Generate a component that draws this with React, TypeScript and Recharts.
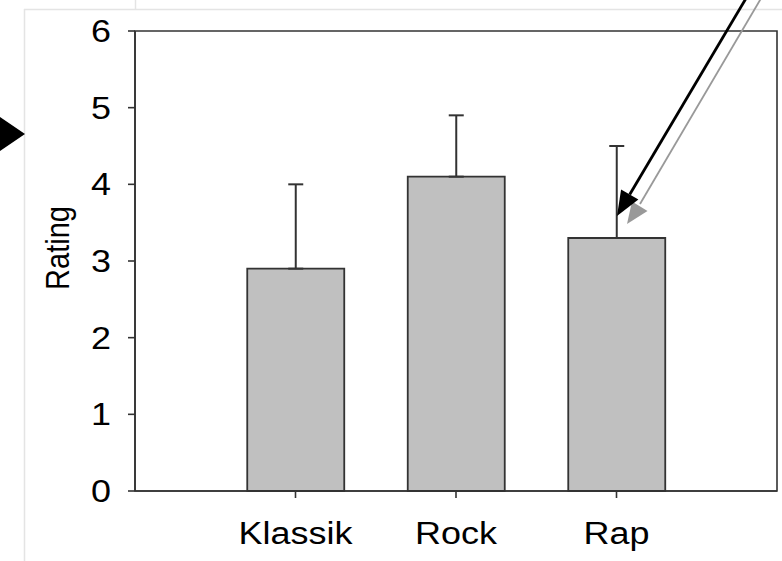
import React from 'react';
import { BarChart, Bar, XAxis, YAxis, ErrorBar, ReferenceArea } from 'recharts';

const categories = ['Klassik', 'Rock', 'Rap'];
const positions = [1, 2, 3];
const ratings = [2.9, 4.1, 3.3];
const errorsUp = [1.1, 0.8, 1.2];
const yTicks = [0, 1, 2, 3, 4, 5, 6];

const data = categories.map((name, i) => ({
  pos: positions[i],
  name,
  rating: ratings[i],
  err: [0, errorsUp[i]],
}));

const FONT = '"Liberation Sans", Arial, sans-serif';
const AXIS = '#333333';
const FS = 31;
const SX = 1.16;

const XTick = (props: any) => {
  const { x, y, payload } = props;
  return (
    <text
      x={0}
      y={0}
      dy="0.71em"
      transform={`translate(${x},${y}) scale(${SX},1)`}
      textAnchor="middle"
      fontFamily={FONT}
      fontSize={FS}
      fill="#000"
    >
      {categories[payload.value - 1]}
    </text>
  );
};

const YTick = (props: any) => {
  const { x, y, payload } = props;
  return (
    <text
      x={0}
      y={0}
      dy="0.355em"
      transform={`translate(${x + 1},${y}) scale(${SX},1)`}
      textAnchor="end"
      fontFamily={FONT}
      fontSize={FS}
      fill="#000"
    >
      {payload.value}
    </text>
  );
};

const RatingLabel = (props: any) => {
  const vb = props.viewBox || { x: 0, y: 0, width: 0, height: 0 };
  const cx = vb.x + 69;
  const cy = vb.y + vb.height / 2 - 13;
  return (
    <text
      x={0}
      y={0}
      transform={`translate(${cx},${cy}) scale(${SX},1) rotate(-90)`}
      textAnchor="middle"
      fontFamily={FONT}
      fontSize={29}
      fill="#000"
    >
      Rating
    </text>
  );
};

export default function App() {
  return (
    <div style={{ position: 'absolute', left: 0, top: 0, width: 782, height: 561, background: '#fff' }}>
      <BarChart
        width={782}
        height={561}
        data={data}
        margin={{ top: 31, right: 5, bottom: 0, left: 0 }}
      >
        <XAxis
          dataKey="pos"
          type="number"
          domain={[0, 4]}
          ticks={positions}
          interval={0}
          height={70}
          tickSize={7}
          tickMargin={24}
          axisLine={{ stroke: AXIS, strokeWidth: 1.6 }}
          tickLine={{ stroke: AXIS, strokeWidth: 1.6 }}
          tick={<XTick />}
        />
        <YAxis
          type="number"
          domain={[0, 6]}
          ticks={yTicks}
          interval={0}
          width={135}
          tickSize={7}
          tickMargin={18}
          axisLine={{ stroke: AXIS, strokeWidth: 1.6 }}
          tickLine={{ stroke: AXIS, strokeWidth: 1.6 }}
          tick={<YTick />}
          label={<RatingLabel />}
        />
        <ReferenceArea x1={0} x2={4} y1={0} y2={6} fill="none" stroke={AXIS} strokeWidth={1.6} />
        <Bar
          dataKey="rating"
          fill="#c0c0c0"
          stroke={AXIS}
          strokeWidth={1.8}
          barSize={97}
          isAnimationActive={false}
        >
          <ErrorBar dataKey="err" direction="y" width={7.5} stroke={AXIS} strokeWidth={2} isAnimationActive={false} />
        </Bar>
      </BarChart>
      <svg
        width={782}
        height={561}
        style={{ position: 'absolute', left: 0, top: 0, pointerEvents: 'none' }}
      >
        <line x1={24.5} y1={9} x2={24.5} y2={561} stroke="#e4e4e4" strokeWidth={1.5} />
        <line x1={24} y1={9.5} x2={782} y2={9.5} stroke="#e4e4e4" strokeWidth={1.5} />
        <line x1={135.5} y1={0} x2={135.5} y2={9} stroke="#e4e4e4" strokeWidth={1.5} />
        <polygon points="-5,113.6 25,134 -5,154.4" fill="#000" />
        <line x1={763} y1={-5} x2={640} y2={204} stroke="#999" strokeWidth={1.8} />
        <polygon points="627,224 647.5,211 632,201.5" fill="#999" />
        <line x1={748} y1={-5} x2={629.7} y2={194.5} stroke="#000" strokeWidth={2.8} />
        <polygon points="617,216 638.4,199.6 621.1,189.4" fill="#000" />
      </svg>
    </div>
  );
}
